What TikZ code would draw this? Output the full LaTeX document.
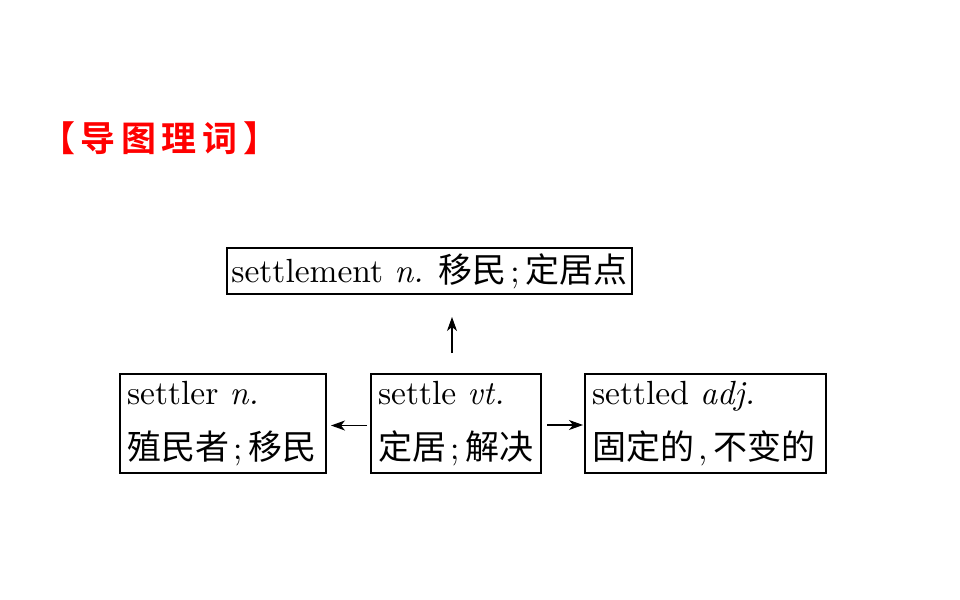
\documentclass[tikz,border=0pt]{standalone}
\usepackage{fontspec}
\setmainfont{lmroman10-regular}[Extension=.otf, ItalicFont=lmroman10-italic, BoldFont=lmroman10-bold]
\newfontfamily\cjk{Noto Sans CJK SC}
\newfontfamily\cjkb{Noto Sans CJK SC Bold}[LetterSpace=16]
\usetikzlibrary{arrows.meta}
\definecolor{titlered}{RGB}{255,0,0}
\tikzset{
  wbox/.style={draw=black, line width=1.4pt, inner sep=0pt, outer sep=0pt,
    font=\fontsize{33.5}{55}\selectfont},
  twoline/.style={minimum height=99pt, align=left},
  conn/.style={line width=1.1pt, -{Stealth[length=14pt,width=10pt,inset=4pt]}},
}
\newcommand{\zh}[1]{{\cjk\fontsize{34}{55}\selectfont #1}}
\newcommand{\semi}{\hspace{4pt};\hspace{6pt}}
\newcommand{\comma}{\hspace{4pt},\hspace{6pt}}
\begin{document}
\begin{tikzpicture}[x=1pt,y=-1pt]
\useasboundingbox (0,0) rectangle (960,599);
\node[anchor=west, text=titlered, font=\cjkb\fontsize{35}{40}\selectfont, inner sep=0pt] (title) at (40,138) {【导图理词】};
\node[wbox, minimum width=405pt, minimum height=46pt] (top) at (429.5,271)
  {settlement \textit{n.} \zh{移民}\semi\zh{定居点}};
\node[wbox, twoline, minimum width=206pt, text width=192pt] (left) at (223,423.5)
  {settler \textit{n.}\\\zh{殖民者}\semi\zh{移民}};
\node[wbox, twoline, minimum width=170pt, text width=156pt] (mid) at (456,423.5)
  {settle \textit{vt.}\\\zh{定居}\semi\zh{解决}};
\node[wbox, twoline, minimum width=241pt, text width=227pt] (right) at (705.5,423.5)
  {settled \textit{adj.}\\\zh{固定的}\comma\zh{不变的}};
\coordinate (upstart) at ([xshift=-4pt,yshift=21pt]mid.north);
\coordinate (upend) at ([xshift=-4pt,yshift=-23pt]mid.north |- top.south);
\draw[conn] (upstart) -- (upend);
\draw[conn, shorten <=4pt, shorten >=5pt] ([yshift=-2pt]mid.west) -- ([yshift=-2pt]left.east);
\draw[conn, shorten <=6pt, shorten >=2pt] ([yshift=-1.5pt]mid.east) -- ([yshift=-1.5pt]right.west);
\end{tikzpicture}
\end{document}
